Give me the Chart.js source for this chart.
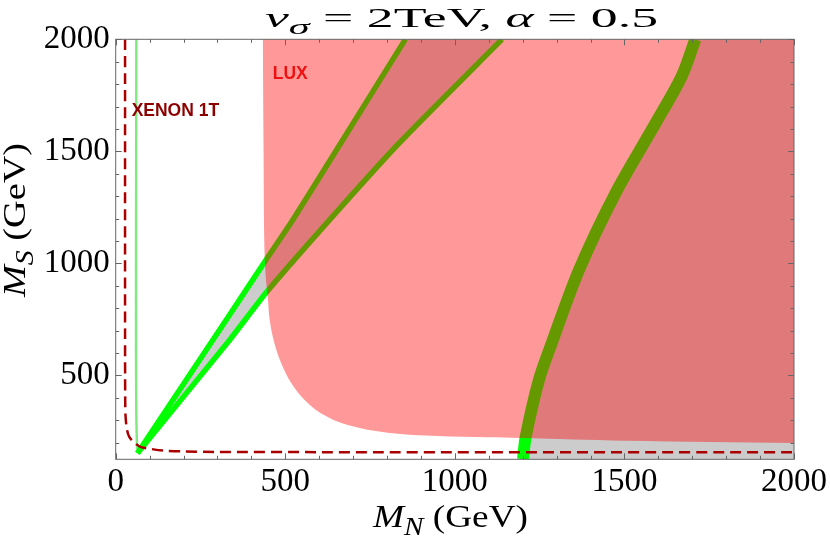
<!DOCTYPE html>
<html>
<head>
<meta charset="utf-8">
<script src="https://cdn.jsdelivr.net/npm/chart.js@4.4.1/dist/chart.umd.min.js"></script>
<style>
  html, body { margin: 0; padding: 0; background: #fff; }
  #wrap { width: 830px; height: 539px; position: relative; }
</style>
</head>
<body>
<div id="wrap"><canvas id="chart"></canvas></div>
<script>
// axis ticks (GeV)
const xTickLabels = [0, 500, 1000, 1500, 2000];
const yTickLabels = [500, 1000, 1500, 2000];
const xMinorTicks = [100, 200, 300, 400, 600, 700, 800, 900, 1100, 1200, 1300, 1400, 1600, 1700, 1800, 1900];
const yMinorTicks = [200, 300, 400, 600, 700, 800, 900, 1100, 1200, 1300, 1400, 1600, 1700, 1800, 1900];

// LUX excluded region, boundary (M_N, M_S)
// first / last points sit outside the frame so the smooth edge is clipped there
const luxMN = [2100, 434, 434, 436, 438, 442, 449, 454, 468, 488, 518, 557, 606, 684, 802, 949, 1096, 1194, 1500, 2000, 2100];
const luxMS = [2300, 2300, 2000, 1500, 1100, 950, 836, 747, 643, 554, 464, 390, 330, 278, 244, 229, 223, 220, 208, 198, 196];

// relic density bands (centre lines)
const bandAMN = [64, 336, 439, 522, 651, 854];
const bandAMS = [152, 770, 1006, 1193, 1506, 2000];
const bandBMN = [64, 336, 445, 630, 836, 1139];
const bandBMS = [152, 658, 872, 1193, 1537, 2000];
const bandCMN = [1201, 1209, 1248, 1286, 1366, 1474, 1592, 1668, 1709];
const bandCMS = [125, 226, 480, 645, 970, 1314, 1626, 1832, 2000];
const thinMN = [61, 60, 60, 61, 63];
const thinMS = [2000, 1000, 600, 300, 170];

// XENON 1T projected limit
const xenonMN = [27.6, 27.6, 28, 29, 33, 40, 52, 71, 101, 140, 200, 300, 600, 2000];
const xenonMS = [2000, 700, 400, 320, 260, 225, 204, 182, 172, 164, 160, 158, 157, 157];

// text labels inside the plot
const labelText = ['XENON 1T', 'LUX'];
const labelMN = [47, 463];
const labelMS = [1658, 1823];
const labelColor = ['#8c0000', '#ee1111'];

const pts = (xs, ys) => xs.map((x, i) => ({ x: x, y: ys[i] }));

const serif = '"Liberation Serif", "Times New Roman", serif';

function drawRich(ctx, runs, x, y, width, angle) {
    let total = 0;
    runs.forEach(r => {
        ctx.font = r.font;
        r.w = ctx.measureText(r.text).width;
        total += r.w;
    });
    ctx.save();
    ctx.translate(x, y);
    ctx.rotate(angle);
    ctx.scale(width / total, 1);
    ctx.fillStyle = '#000';
    ctx.textBaseline = 'alphabetic';
    ctx.textAlign = 'left';
    let cx = 0;
    runs.forEach(r => {
        ctx.font = r.font;
        ctx.fillText(r.text, cx, r.dy || 0);
        cx += r.w;
    });
    ctx.restore();
}

const titleRuns = [
    { text: 'v', font: 'italic 28px ' + serif },
    { text: 'σ', font: 'italic 22px ' + serif, dy: 7 },
    { text: ' = ', font: '28px ' + serif },
    { text: '2TeV, ', font: '28px ' + serif },
    { text: 'α', font: 'italic 28px ' + serif },
    { text: ' = ', font: '28px ' + serif },
    { text: '0.5', font: '28px ' + serif }
];
const xTitleRuns = [
    { text: 'M', font: 'italic 32px ' + serif },
    { text: 'N', font: 'italic 25px ' + serif, dy: 8 },
    { text: ' (GeV)', font: '32px ' + serif }
];
const yTitleRuns = [
    { text: 'M', font: 'italic 32px ' + serif },
    { text: 'S', font: 'italic 25px ' + serif, dy: 8 },
    { text: ' (GeV)', font: '32px ' + serif }
];

const framePlugin = {
    id: 'frame',
    afterDatasetsDraw(chart) {
        const { ctx, chartArea: a, scales: { x, y } } = chart;
        ctx.save();
        ctx.strokeStyle = '#666';
        ctx.lineWidth = 1;
        ctx.strokeRect(a.left, a.top, a.right - a.left, a.bottom - a.top);
        ctx.beginPath();
        const xt = (v, len) => {
            const p = Math.round(x.getPixelForValue(v)) + 0.5;
            ctx.moveTo(p, a.bottom); ctx.lineTo(p, a.bottom - len);
            ctx.moveTo(p, a.top); ctx.lineTo(p, a.top + len);
        };
        const yt = (v, len) => {
            const p = Math.round(y.getPixelForValue(v)) + 0.5;
            ctx.moveTo(a.left, p); ctx.lineTo(a.left + len, p);
            ctx.moveTo(a.right, p); ctx.lineTo(a.right - len, p);
        };
        xTickLabels.forEach(v => xt(v, 6));
        xMinorTicks.forEach(v => xt(v, 3.5));
        yTickLabels.forEach(v => yt(v, 6));
        yMinorTicks.forEach(v => yt(v, 3.5));
        ctx.stroke();

        ctx.font = 'bold 17.5px "Liberation Sans", Arial, sans-serif';
        ctx.textBaseline = 'alphabetic';
        ctx.textAlign = 'left';
        labelText.forEach((t, i) => {
            ctx.fillStyle = labelColor[i];
            ctx.fillText(t, x.getPixelForValue(labelMN[i]), y.getPixelForValue(labelMS[i]));
        });
        ctx.restore();
    },
    afterDraw(chart) {
        const ctx = chart.ctx;
        drawRich(ctx, titleRuns, 265, 26.5, 393, 0);
        drawRich(ctx, xTitleRuns, 373, 527, 155, 0);
        drawRich(ctx, yTitleRuns, 25, 297, 154, -Math.PI / 2);
    }
};

const common = { showLine: true, pointRadius: 0, clip: 0 };

new Chart(document.getElementById('chart'), {
    type: 'scatter',
    data: {
        datasets: [
            { ...common, data: [...pts(bandAMN, bandAMS), ...pts(bandBMN, bandBMS).reverse()],
              fill: 'shape', backgroundColor: '#cccccc', borderWidth: 0, tension: 0, order: 10 },
            { ...common, data: [...pts(bandCMN, bandCMS), { x: 2000, y: 2000 }, { x: 2000, y: 125 }],
              fill: 'shape', backgroundColor: '#cccccc', borderWidth: 0, tension: 0, order: 9 },
            { ...common, data: pts(thinMN, thinMS), borderColor: '#80ea80', borderWidth: 2.5, tension: 0.2, order: 8 },
            { ...common, data: pts(bandAMN, bandAMS), borderColor: '#00ff00', borderWidth: 5.5, tension: 0.2, order: 7 },
            { ...common, data: pts(bandBMN, bandBMS), borderColor: '#00ff00', borderWidth: 5.5, tension: 0.2, order: 6 },
            { ...common, data: pts(bandCMN, bandCMS), borderColor: '#00ff00', borderWidth: 12, tension: 0.3, order: 5 },
            { ...common, data: pts(luxMN, luxMS), fill: 'shape', backgroundColor: 'rgba(255,0,0,0.4)',
              borderWidth: 0, tension: 0.35, order: 4 },
            { ...common, data: pts(xenonMN, xenonMS), borderColor: '#aa0000', borderWidth: 2.5,
              borderDash: [11, 6], tension: 0.3, order: 1 }
        ]
    },
    options: {
        responsive: true,
        maintainAspectRatio: false,
        animation: false,
        events: [],
        elements: { line: { capBezierPoints: false } },
        layout: { padding: { top: 39.3, right: 34.3, left: 0, bottom: 0 } },
        plugins: { legend: { display: false }, tooltip: { enabled: false }, title: { display: false } },
        scales: {
            x: {
                type: 'linear', min: 0, max: 2000,
                border: { display: false },
                grid: { display: false, drawTicks: false },
                ticks: { font: { family: serif, size: 33 }, color: '#000', padding: 3, maxRotation: 0,
                         autoSkip: false, callback: v => String(v) },
                afterBuildTicks: s => { s.ticks = xTickLabels.map(v => ({ value: v })); },
                afterFit: s => { s.height = 79.7; }
            },
            y: {
                type: 'linear', min: 125, max: 2000,
                border: { display: false },
                grid: { display: false, drawTicks: false },
                ticks: { font: { family: serif, size: 33 }, color: '#000', padding: 6,
                         autoSkip: false, callback: v => String(v) },
                afterBuildTicks: s => { s.ticks = yTickLabels.map(v => ({ value: v })); },
                afterFit: s => { s.width = 115.7; }
            }
        }
    },
    plugins: [framePlugin]
});
</script>
</body>
</html>
